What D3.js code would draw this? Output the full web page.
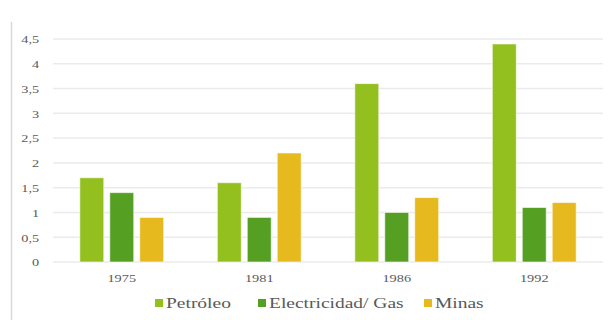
<!DOCTYPE html>
<html>
<head>
<meta charset="utf-8">
<script src="https://cdn.jsdelivr.net/npm/d3@7"></script>
<style>
  body { margin: 0; background: #fff; }
  svg { display: block; }
</style>
</head>
<body>
<svg id="chart" width="608" height="320"></svg>
<script>
// data
const years = ['1975', '1981', '1986', '1992'];
const series = ['Petróleo', 'Electricidad/ Gas', 'Minas'];
const petroleo = [1.7, 1.6, 3.6, 4.4];
const electricidad = [1.4, 0.9, 1.0, 1.1];
const minas = [0.9, 2.2, 1.3, 1.2];
const yTicks = [0, 0.5, 1, 1.5, 2, 2.5, 3, 3.5, 4, 4.5];
const colors = ['#93c01f', '#55a023', '#e6b91e'];

const values = [petroleo, electricidad, minas];
const rows = years.map((y, i) => ({ year: y, vals: values.map(v => v[i]) }));

const svg = d3.select('#chart');
const plotLeft = 53, plotRight = 603, plotTop = 39, plotBottom = 262;
const stretch = 1.3; // the source text is wider than normal
const serif = "'Liberation Serif', 'Times New Roman', serif";

// left frame line
svg.append('line')
  .attr('x1', 11.5).attr('x2', 11.5)
  .attr('y1', 22).attr('y2', 320)
  .attr('stroke', '#d9d9d9').attr('stroke-width', 1.5);

const y = d3.scaleLinear().domain([0, 4.5]).range([plotBottom, plotTop]);
const x0 = d3.scaleBand().domain(years).range([plotLeft, plotRight]).paddingInner(0.39).paddingOuter(0.195);
const x1 = d3.scaleBand().domain(d3.range(3)).range([0, x0.bandwidth()]).paddingInner(0.2);

// gridlines
svg.append('g')
  .selectAll('line')
  .data(yTicks)
  .enter().append('line')
  .attr('x1', plotLeft).attr('x2', plotRight)
  .attr('y1', d => y(d)).attr('y2', d => y(d))
  .attr('stroke', '#ebebeb').attr('stroke-width', 1.5);

// y axis labels
const yAxis = svg.append('g')
  .attr('transform', `translate(${plotLeft - 10},0)`)
  .call(d3.axisLeft(y).tickValues(yTicks).tickSize(0).tickFormat(d => String(d).replace('.', ',')));
yAxis.select('.domain').remove();
yAxis.selectAll('text')
  .style('font-family', serif)
  .style('font-size', '11px')
  .style('fill', '#595959')
  .attr('dy', '0.35em')
  .attr('transform', `scale(${stretch},1)`);

// x axis labels
const xAxis = svg.append('g')
  .attr('transform', `translate(0,${plotBottom + 9})`)
  .call(d3.axisBottom(x0).tickSize(0));
xAxis.select('.domain').remove();
xAxis.selectAll('text')
  .style('font-family', serif)
  .style('font-size', '11px')
  .style('fill', '#595959')
  .attr('dy', '0.71em')
  .attr('transform', `scale(${stretch},1)`);

// bars
const groups = svg.selectAll('.group')
  .data(rows)
  .enter().append('g')
  .attr('class', 'group')
  .attr('transform', d => `translate(${x0(d.year)},0)`);

groups.selectAll('rect')
  .data(d => d.vals)
  .enter().append('rect')
  .attr('x', (d, i) => x1(i))
  .attr('width', x1.bandwidth())
  .attr('y', d => y(d))
  .attr('height', d => plotBottom - y(d))
  .attr('fill', (d, i) => colors[i])
  .attr('stroke', 'rgba(255,255,255,0.6)')
  .attr('stroke-width', 1);

// legend
const legendX = [155, 258, 424];
const legend = svg.selectAll('.legend')
  .data(series)
  .enter().append('g')
  .attr('class', 'legend')
  .attr('transform', (d, i) => `translate(${legendX[i]},303)`);

legend.append('rect')
  .attr('x', 0).attr('y', -4)
  .attr('width', 8).attr('height', 8)
  .attr('fill', (d, i) => colors[i]);

legend.append('text')
  .attr('transform', `translate(11,0) scale(${stretch},1)`)
  .attr('dy', '0.35em')
  .style('font-family', serif)
  .style('font-size', '15px')
  .style('fill', '#595959')
  .text(d => d);
</script>
</body>
</html>
